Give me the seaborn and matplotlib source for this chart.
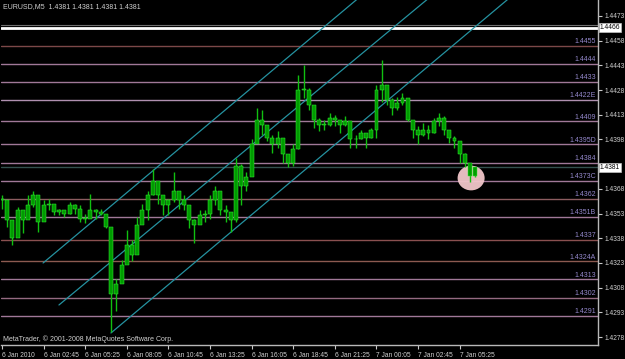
import numpy as np
import pandas as pd
import matplotlib
matplotlib.use("Agg")
import matplotlib.pyplot as plt
import matplotlib.transforms as mtransforms
from matplotlib.patches import Ellipse
import seaborn as sns

# ---------------- data ----------------
# 20-minute samples, minutes after 6 Jan 2010 00:00
bar_minutes = np.arange(92) * 20 + 5
high = [1.4364, 1.4354, 1.4344, 1.4357, 1.4352, 1.4364, 1.4367, 1.4355, 1.4361, 1.4362,
        1.4357, 1.4356, 1.4355, 1.4360, 1.4359, 1.4358, 1.4353, 1.4365, 1.4356, 1.4356,
        1.4353, 1.4345, 1.4313, 1.4325, 1.4343, 1.4337, 1.4351, 1.4359, 1.4367, 1.4380,
        1.4370, 1.4364, 1.4362, 1.4378, 1.4364, 1.4364, 1.4353, 1.4350, 1.4355, 1.4355,
        1.4364, 1.4370, 1.4362, 1.4358, 1.4352, 1.4387, 1.4383, 1.4378, 1.4398, 1.4417,
        1.4416, 1.4405, 1.4401, 1.4403, 1.4395, 1.4389, 1.4395, 1.4437, 1.4443, 1.4429,
        1.4417, 1.4411, 1.4410, 1.4414, 1.4413, 1.4410, 1.4412, 1.4405, 1.4401, 1.4404,
        1.4402, 1.4405, 1.4431, 1.4446, 1.4427, 1.4423, 1.4424, 1.4426, 1.4421, 1.4409,
        1.4406, 1.4408, 1.4407, 1.4411, 1.4414, 1.4412, 1.4402, 1.4400, 1.4395, 1.4390,
        1.4382, 1.4381]
low = [1.4356, 1.4345, 1.4334, 1.4348, 1.4341, 1.4354, 1.4357, 1.4342, 1.4353, 1.4355,
       1.4352, 1.4352, 1.4351, 1.4353, 1.4353, 1.4348, 1.4347, 1.4352, 1.4350, 1.4352,
       1.4344, 1.4281, 1.4294, 1.4313, 1.4325, 1.4324, 1.4334, 1.4349, 1.4349, 1.4364,
       1.4359, 1.4352, 1.4352, 1.4360, 1.4356, 1.4355, 1.4344, 1.4335, 1.4348, 1.4348,
       1.4350, 1.4358, 1.4352, 1.4348, 1.4342, 1.4348, 1.4358, 1.4367, 1.4380, 1.4403,
       1.4401, 1.4397, 1.4390, 1.4393, 1.4384, 1.4381, 1.4382, 1.4392, 1.4423, 1.4416,
       1.4405, 1.4403, 1.4404, 1.4406, 1.4406, 1.4402, 1.4406, 1.4393, 1.4393, 1.4398,
       1.4393, 1.4399, 1.4399, 1.4421, 1.4419, 1.4413, 1.4416, 1.4419, 1.4409, 1.4399,
       1.4395, 1.4400, 1.4398, 1.4402, 1.4406, 1.4401, 1.4396, 1.4393, 1.4384, 1.4381,
       1.4372, 1.4375]
close = [1.4361, 1.4349, 1.4338, 1.4355, 1.4349, 1.4358, 1.4364, 1.4348, 1.4358, 1.4359,
         1.4354, 1.4355, 1.4353, 1.4358, 1.4356, 1.4350, 1.4350, 1.4355, 1.4354, 1.4353,
         1.4345, 1.4304, 1.4310, 1.4322, 1.4334, 1.4328, 1.4346, 1.4355, 1.4364, 1.4373,
         1.4364, 1.4358, 1.4361, 1.4367, 1.4361, 1.4358, 1.4349, 1.4346, 1.4352, 1.4353,
         1.4361, 1.4367, 1.4355, 1.4354, 1.4349, 1.4382, 1.4370, 1.4375, 1.4395, 1.4410,
         1.4407, 1.4399, 1.4395, 1.4399, 1.4389, 1.4384, 1.4392, 1.4428, 1.4428, 1.4419,
         1.4410, 1.4407, 1.4407, 1.4411, 1.4410, 1.4407, 1.4409, 1.4398, 1.4398, 1.4402,
         1.4399, 1.4404, 1.4428, 1.4431, 1.4422, 1.4417, 1.4420, 1.4423, 1.4410, 1.4404,
         1.4401, 1.4404, 1.4402, 1.4409, 1.4411, 1.4404, 1.4399, 1.4397, 1.4389, 1.4384,
         1.4376, 1.4381]
first_open = 1.4362

level_values = [1.4455, 1.4444, 1.4433, 1.4422, 1.4409, 1.4395, 1.4384, 1.4373,
                1.4362, 1.4351, 1.4337, 1.4324, 1.4313, 1.4302, 1.4291]
level_labels = ["1.4455", "1.4444", "1.4433", "1.4422E", "1.4409", "1.4395D", "1.4384",
                "1.4373C", "1.4362", "1.4351B", "1.4337", "1.4324A", "1.4313", "1.4302", "1.4291"]
level_colors = ["#7c4848", "#a07898", "#a07898", "#b090b0", "#a07898", "#a07898", "#a07898",
                "#a07898", "#8c5c60", "#a07898", "#8a5050", "#8c5a50", "#a07898", "#946a80", "#a07898"]

channel_minutes = {"top": [163, 1413], "mid": [224, 1684], "bottom": [424, 1993]}
channel_prices = {"top": [1.4323, 1.44888], "mid": [1.42975, 1.44888], "bottom": [1.42805, 1.44888]}

yticks = [1.4473, 1.4458, 1.4443, 1.4428, 1.4413, 1.4398, 1.4383, 1.4368,
          1.4353, 1.4338, 1.4323, 1.4308, 1.4293, 1.4278]
ytick_labels = ["1.4473", "1.4458", "1.4443", "1.4428", "1.4413", "1.4398", "",
                "1.4368", "1.4353", "1.4338", "1.4323", "1.4308", "1.4293", "1.4278"]
xtick_minutes = [5, 165, 325, 485, 645, 805, 965, 1125, 1285, 1445, 1605, 1765]
xtick_labels = ["6 Jan 2010", "6 Jan 02:45", "6 Jan 05:25", "6 Jan 08:05", "6 Jan 10:45",
                "6 Jan 13:25", "6 Jan 16:05", "6 Jan 18:45", "6 Jan 21:25", "7 Jan 00:05",
                "7 Jan 02:45", "7 Jan 05:25"]
bid_price = 1.4381
white_level = 1.4466
marker_center = (1809, 1.43746)

# ---------------- drawing ----------------
sns.set_style("dark", {"axes.facecolor": "black", "figure.facecolor": "black"})
plt.rcParams['font.family'] = ['Liberation Sans', 'DejaVu Sans']

fig = plt.figure(figsize=(6.25, 3.59), dpi=100)
fig.patch.set_facecolor("black")
ax = fig.add_axes([1 / 625, 14 / 359, 597 / 625, 345 / 359])
ax.set_facecolor("black")
ax.set_xlim(1.15, 2297)
ax.set_ylim(1.42732, 1.44827)
ax.grid(False)

blend = mtransforms.blended_transform_factory(ax.transAxes, ax.transData)

# horizontal level lines
for lvl, lab, col in zip(level_values, level_labels, level_colors):
    ax.axhline(lvl, color=col, lw=1.0, zorder=1)
    ax.text(0.9966, lvl + 0.00003, lab, transform=blend, ha="right", va="bottom",
            color="#9488cc", fontsize=5, zorder=5)

ax.axhline(1.44675, color="#707070", lw=0.8, zorder=1)
ax.axhline(white_level, color="white", lw=2.0, zorder=1)
ax.axhline(bid_price, color="#34504e", lw=1.0, zorder=1)

# highlight ellipse
ax.add_patch(Ellipse(marker_center, width=104, height=0.00150, facecolor="#f2c6ca",
                     edgecolor="none", alpha=0.95, zorder=2))

# channel lines
for key in ["top", "mid", "bottom"]:
    df = pd.DataFrame({"t": channel_minutes[key], "p": channel_prices[key]})
    sns.lineplot(data=df, x="t", y="p", ax=ax, color="#2592a0", lw=0.9,
                 estimator=None, sort=False, zorder=2)

# candles
opens = [first_open] + close[:-1]
c = pd.DataFrame({"t": bar_minutes, "o": opens, "h": high, "l": low, "c": close})
ax.vlines(c["t"], c["l"], c["h"], color="#10c010", lw=1.0, zorder=3)
body_lo = np.minimum(c["o"], c["c"])
body_h = np.maximum(np.abs(c["c"] - c["o"]), 0.00005)
ax.bar(c["t"], body_h, bottom=body_lo, width=15, color="#009c00",
       edgecolor="#38f038", lw=0.35, zorder=4)

# axes styling
ax.set_xlabel("")
ax.set_ylabel("")
for s in ["left", "top"]:
    ax.spines[s].set_visible(False)
for s in ["right", "bottom"]:
    ax.spines[s].set_visible(True)
    ax.spines[s].set_color("#b8b8b8")
    ax.spines[s].set_linewidth(1.0)

ax.yaxis.tick_right()
ax.set_yticks(yticks)
ax.set_yticklabels(ytick_labels)
ax.set_xticks(xtick_minutes)
ax.set_xticklabels(xtick_labels)
for lbl in ax.get_xticklabels():
    lbl.set_ha("left")
ax.tick_params(axis="both", colors="#c8c8c8", labelsize=4.8, length=3, width=0.8,
               direction="out", pad=1.5, labelcolor="#d0d0d0")
ax.tick_params(axis="y", left=False, right=True)
ax.tick_params(axis="x", bottom=True, pad=2)

# price boxes on the right scale
for val in [white_level, bid_price]:
    ax.text(1.003, val, f"{val:.4f}", transform=blend, ha="left", va="center",
            fontsize=4.8, color="black", zorder=10,
            bbox=dict(facecolor="white", edgecolor="#c0c0c0", pad=0.8, lw=0.5))

ax.text(0.004, 0.992, "EURUSD,M5  1.4381 1.4381 1.4381 1.4381", transform=ax.transAxes,
        ha="left", va="top", color="#d0d0d0", fontsize=5, zorder=10)
ax.text(0.004, 0.006, "MetaTrader, © 2001-2008 MetaQuotes Software Corp.",
        transform=ax.transAxes, ha="left", va="bottom", color="#d0d0d0", fontsize=5, zorder=10)

fig.savefig("out.png", dpi=100, facecolor="black")
